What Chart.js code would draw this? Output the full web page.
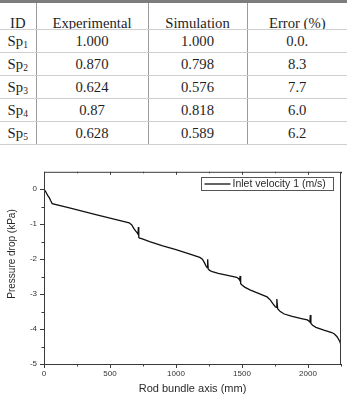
<!DOCTYPE html>
<html><head><meta charset="utf-8">
<script src="https://cdn.jsdelivr.net/npm/chart.js@4.4.1/dist/chart.umd.min.js"></script>
<style>
html,body{margin:0;padding:0;background:#fff;width:347px;height:397px;overflow:hidden;}
#tbl{position:absolute;left:0;top:0;width:347px;border-collapse:collapse;table-layout:fixed;
 font-family:"Liberation Serif","Times New Roman",serif;font-size:14.7px;color:#1e1e1e;border-top:3px solid #7d7d7d;}
#tbl td{font-weight:normal;text-align:center;padding:0;border-left:1px solid #9a9a9a;border-bottom:1px solid #cfcfcf;height:22px;line-height:16px;vertical-align:middle;overflow:hidden;}
#tbl tr td:first-child{border-left:none;}
#tbl tr.hd td{height:25px;line-height:10px;vertical-align:bottom;padding-bottom:1px;}
#tbl sub{font-size:9.5px;line-height:0;vertical-align:baseline;position:relative;top:2px;}
#c{position:absolute;left:0;top:160px;}
</style></head>
<body>
<table id="tbl"><colgroup><col style="width:36px"><col style="width:112px"><col style="width:99px"><col style="width:100px"></colgroup><tbody id="tb"></tbody></table>
<canvas id="c" width="347" height="237"></canvas>
<script>
// ---- table data ----
const tableHeaders = ['ID', 'Experimental', 'Simulation', 'Error (%)'];
const sampleIds = ['1', '2', '3', '4', '5'];
const experimental = ['1.000', '0.870', '0.624', '0.87', '0.628'];
const simulation = ['1.000', '0.798', '0.576', '0.818', '0.589'];
const errorPct = ['0.0.', '8.3', '7.7', '6.0', '6.2'];

// ---- chart data ----
const seriesLabel = 'Inlet velocity 1 (m/s)';
const positions = [0, 10, 20, 30, 40, 50, 62, 200, 400, 600, 645, 665, 680, 695, 705, 712, 715, 718, 725, 745, 800, 900, 1000, 1100, 1180, 1200, 1215, 1228, 1236, 1240, 1244, 1255, 1275, 1320, 1400, 1460, 1475, 1482, 1486, 1490, 1500, 1520, 1560, 1620, 1690, 1715, 1735, 1752, 1760, 1764, 1770, 1790, 1820, 1880, 1950, 1995, 2008, 2014, 2018, 2022, 2035, 2060, 2120, 2180, 2200, 2220, 2240, 2250];
const pressureDrop = [0, -0.05, -0.12, -0.19, -0.24, -0.32, -0.41, -0.54, -0.73, -0.92, -0.96, -1.02, -1.12, -1.20, -1.24, -1.28, -1.08, -1.38, -1.40, -1.42, -1.50, -1.62, -1.73, -1.85, -1.95, -2.00, -2.10, -2.20, -2.24, -2.00, -2.28, -2.32, -2.36, -2.41, -2.47, -2.52, -2.56, -2.60, -2.48, -2.70, -2.74, -2.80, -2.88, -2.97, -3.08, -3.17, -3.28, -3.36, -3.38, -3.14, -3.42, -3.50, -3.57, -3.64, -3.70, -3.74, -3.78, -3.80, -3.60, -3.84, -3.89, -3.95, -4.03, -4.10, -4.14, -4.22, -4.35, -4.45];
const xTickValues = [0, 500, 1000, 1500, 2000];
const xMinorTicks = [250, 750, 1250, 1750, 2250];
const yTickValues = [-5, -4, -3, -2, -1, 0];
const yMinorTicks = [-4.5, -3.5, -2.5, -1.5, -0.5];
const xTitle = 'Rod bundle axis (mm)';
const yTitle = 'Pressure drop (kPa)';

// build table
const tb = document.getElementById('tb');
let html = '<tr class="hd">' + tableHeaders.map(h => '<td>' + h + '</td>').join('') + '</tr>';
for (let i = 0; i < sampleIds.length; i++) {
  html += '<tr><td>Sp<sub>' + sampleIds[i] + '</sub></td><td>' + experimental[i] + '</td><td>' + simulation[i] + '</td><td>' + errorPct[i] + '</td></tr>';
}
tb.innerHTML = html;

const frameColor = '#3a3a3a';
const decor = {
  id: 'decor',
  afterDraw(chart) {
    const ctx = chart.ctx;
    const {left, right, top, bottom} = chart.chartArea;
    const xs = chart.scales.x, ys = chart.scales.y;
    ctx.save();
    ctx.strokeStyle = frameColor;
    ctx.lineWidth = 1;
    ctx.strokeRect(left + 0.5, top + 0.5, right - left - 1, bottom - top);
    ctx.beginPath();
    const tx = (v, len) => {
      const p = Math.round(xs.getPixelForValue(v)) + 0.5;
      ctx.moveTo(p, bottom); ctx.lineTo(p, bottom + len);
      ctx.moveTo(p, top); ctx.lineTo(p, top + len - 1);
    };
    xTickValues.forEach(v => tx(v, 4));
    xMinorTicks.forEach(v => tx(v, 2.5));
    const ty = (v, len) => {
      const p = Math.round(ys.getPixelForValue(v)) + 0.5;
      ctx.moveTo(left, p); ctx.lineTo(left - len, p);
    };
    yTickValues.forEach(v => ty(v, 4));
    yMinorTicks.forEach(v => ty(v, 2.5));
    ctx.stroke();
    // y title
    ctx.fillStyle = '#2a2a2a';
    ctx.font = '10px "Liberation Sans", Arial, sans-serif';
    ctx.textAlign = 'center';
    ctx.textBaseline = 'middle';
    ctx.translate(12, 94);
    ctx.rotate(-Math.PI / 2);
    ctx.fillText(yTitle, 0, 0);
    ctx.restore();
    // legend
    ctx.save();
    const lx = 201.5, ly = 17.5, lw = 132, lh = 13;
    ctx.strokeStyle = '#555';
    ctx.lineWidth = 1;
    ctx.strokeRect(lx, ly, lw, lh);
    ctx.strokeStyle = '#111';
    ctx.lineWidth = 1.3;
    ctx.beginPath();
    ctx.moveTo(lx + 3, ly + lh / 2); ctx.lineTo(lx + 29, ly + lh / 2);
    ctx.stroke();
    ctx.fillStyle = '#2a2a2a';
    ctx.font = '10.5px "Liberation Sans", Arial, sans-serif';
    ctx.textAlign = 'left';
    ctx.textBaseline = 'middle';
    ctx.fillText(chart.data.datasets[0].label, lx + 31, ly + lh / 2 + 0.5);
    ctx.restore();
  }
};

const tickFont = {family: '"Liberation Sans", Arial, sans-serif', size: 8};
new Chart(document.getElementById('c'), {
  type: 'line',
  data: {
    datasets: [{
      label: seriesLabel,
      data: positions.map((x, i) => ({x: x, y: pressureDrop[i]})),
      borderColor: '#111',
      borderWidth: 1.3,
      pointRadius: 0,
      tension: 0,
      fill: false
    }]
  },
  options: {
    responsive: false,
    animation: false,
    devicePixelRatio: 1,
    layout: {padding: {top: 10, right: 6, left: 0, bottom: 0}},
    plugins: {legend: {display: false}, tooltip: {enabled: false}},
    scales: {
      x: {
        type: 'linear', min: 0, max: 2250,
        afterBuildTicks: s => { s.ticks = xTickValues.map(v => ({value: v})); },
        afterFit: s => { s.height = 33; },
        grid: {display: false, drawTicks: false},
        border: {display: false},
        ticks: {font: tickFont, color: '#333', padding: 5, maxRotation: 0, autoSkip: false,
                callback: v => String(v)},
        title: {display: true, text: xTitle, color: '#2a2a2a',
                font: {family: '"Liberation Sans", Arial, sans-serif', size: 11}, padding: {top: 0, bottom: 1}}
      },
      y: {
        type: 'linear', min: -5, max: 0.5,
        afterBuildTicks: s => { s.ticks = yTickValues.map(v => ({value: v})); },
        afterFit: s => { s.width = 44; },
        grid: {display: false, drawTicks: false},
        border: {display: false},
        ticks: {font: tickFont, color: '#333', padding: 7, autoSkip: false, callback: v => String(v)}
      }
    }
  },
  plugins: [decor]
});
</script>
</body></html>
